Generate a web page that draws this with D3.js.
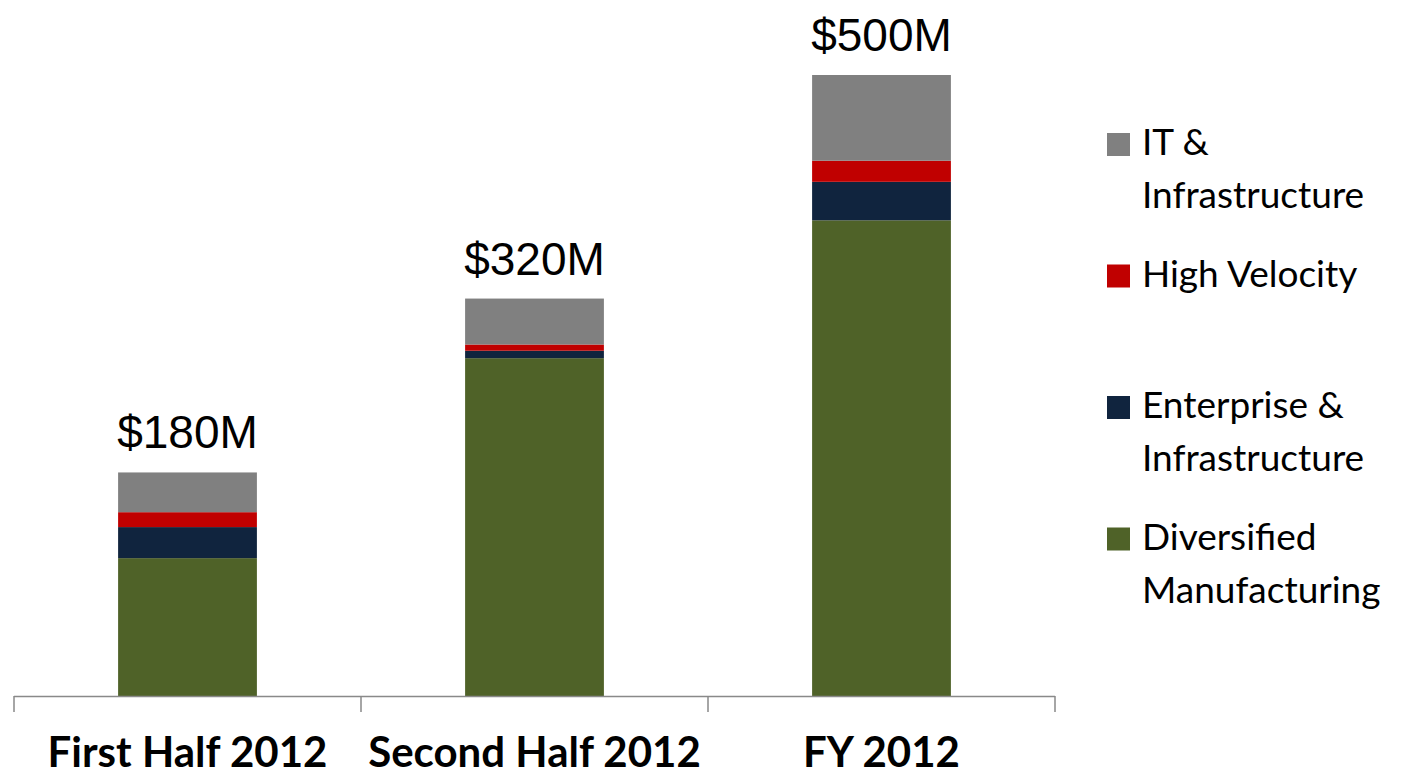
<!DOCTYPE html>
<html>
<head>
<meta charset="utf-8">
<script src="https://cdn.jsdelivr.net/npm/d3@7"></script>
<style>
  body { margin: 0; background: #fff; }
  svg { display: block; }
</style>
</head>
<body>
<div class="bar-chart"></div>
<script>
// data ($M)
var periods = ["First Half 2012", "Second Half 2012", "FY 2012"]
var totals = ["$180M", "$320M", "$500M"]
var segments = ["Diversified Manufacturing", "Enterprise & Infrastructure", "High Velocity", "IT & Infrastructure"]
var diversified = [111, 272, 383]
var enterprise = [25, 6, 31]
var highVelocity = [12, 5, 17]
var itInfra = [32, 37, 69]
var colors = ["#4f6228", "#10243e", "#c00000", "#808080"]
// legend reads top to bottom, two lines where it wraps
var legendLines = [["IT &", "Infrastructure"], ["High Velocity"], ["Enterprise &", "Infrastructure"], ["Diversified", "Manufacturing"]]
var legendColors = ["#808080", "#c00000", "#10243e", "#4f6228"]

var width = 1410, height = 778
var svg = d3.select(".bar-chart").append("svg")
  .attr("width", width)
  .attr("height", height)

var table = periods.map(function(p, i) {
  return { period: p, d0: diversified[i], d1: enterprise[i], d2: highVelocity[i], d3: itInfra[i] }
})
var stack = d3.stack().keys(["d0", "d1", "d2", "d3"])(table)

var x = d3.scaleBand().domain(periods).range([14, 1055]).paddingInner(0.6).paddingOuter(0.3)
var y = d3.scaleLinear().domain([0, 500]).range([696, 75])

// bars
svg.selectAll("g.layer")
  .data(stack)
  .enter().append("g")
  .attr("class", "layer")
  .attr("fill", function(d, i) { return colors[i] })
  .selectAll("rect")
  .data(function(d) { return d })
  .enter().append("rect")
  .attr("x", function(d) { return x(d.data.period) })
  .attr("width", x.bandwidth())
  .attr("y", function(d) { return y(d[1]) })
  .attr("height", function(d) { return y(d[0]) - y(d[1]) })

// total labels
var topLayer = stack[stack.length - 1]
svg.selectAll("text.total")
  .data(topLayer)
  .enter().append("text")
  .attr("class", "total")
  .attr("x", function(d) { return x(d.data.period) + x.bandwidth() / 2 })
  .attr("y", function(d) { return y(d[1]) - 24 })
  .attr("text-anchor", "middle")
  .style("font-family", "'Liberation Sans', Arial, sans-serif")
  .style("font-size", "46px")
  .style("fill", "#000")
  .text(function(d, i) { return totals[i] })

// category axis, ticks sit between the categories
var r = x.range(), step = x.step()
var bounds = d3.range(periods.length + 1).map(function(i) { return r[0] + i * step })
var axis = svg.append("g").attr("class", "axis")
axis.append("line")
  .attr("x1", r[0]).attr("x2", r[1])
  .attr("y1", y(0) + 0.5).attr("y2", y(0) + 0.5)
  .attr("stroke", "#898989").attr("stroke-width", 1.5)
axis.selectAll("line.tick")
  .data(bounds)
  .enter().append("line")
  .attr("class", "tick")
  .attr("x1", function(d) { return d }).attr("x2", function(d) { return d })
  .attr("y1", y(0)).attr("y2", y(0) + 16)
  .attr("stroke", "#898989").attr("stroke-width", 1.5)
axis.selectAll("text")
  .data(periods)
  .enter().append("text")
  .attr("x", function(d) { return x(d) + x.bandwidth() / 2 })
  .attr("y", 767)
  .attr("text-anchor", "middle")
  .style("font-family", "Lato, 'Open Sans', sans-serif")
  .style("font-weight", "bold")
  .style("font-size", "42px")
  .style("fill", "#000")
  .text(function(d) { return d })

// legend
var legend = svg.append("g").attr("class", "legend")
var item = legend.selectAll("g")
  .data(legendLines)
  .enter().append("g")
  .attr("transform", function(d, i) { return "translate(1107," + (133 + i * 131.5) + ")" })
item.append("rect")
  .attr("width", 23).attr("height", 23)
  .attr("fill", function(d, i) { return legendColors[i] })
item.selectAll("text")
  .data(function(d) { return d })
  .enter().append("text")
  .attr("x", 35)
  .attr("y", function(d, j) { return 22 + j * 53 })
  .style("font-family", "Lato, 'Open Sans', sans-serif")
  .style("font-size", "37px")
  .style("fill", "#000")
  .text(function(d) { return d })
</script>
</body>
</html>
